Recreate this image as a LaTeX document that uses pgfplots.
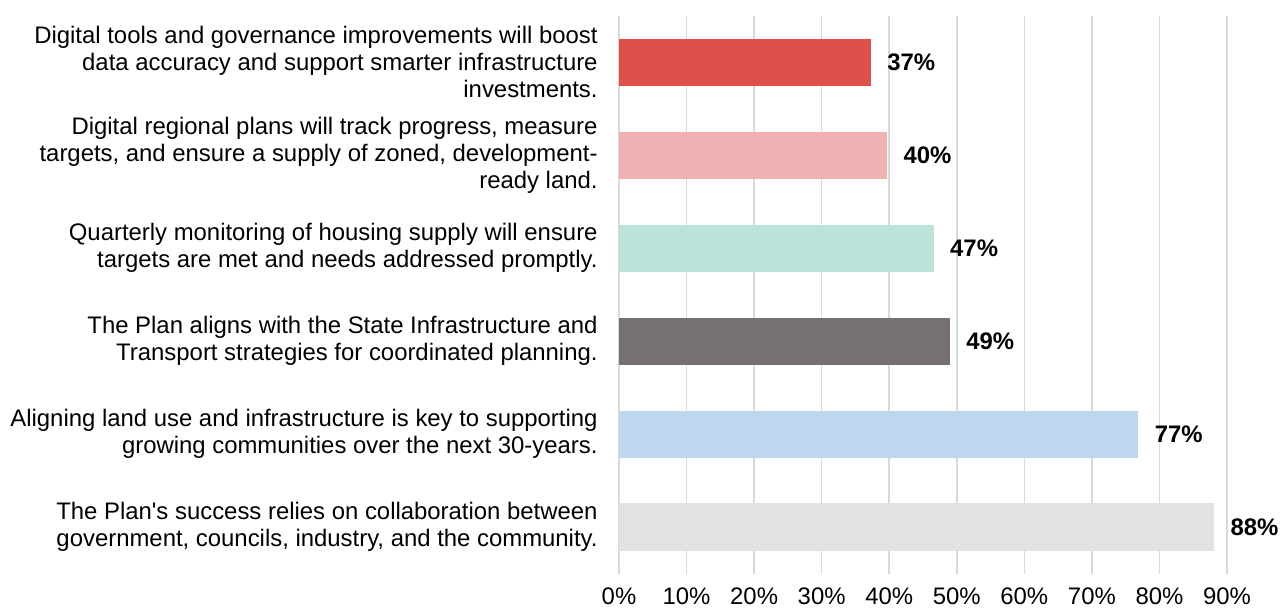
\documentclass[border=0pt]{standalone}
\usepackage{pgfplots}
\pgfplotsset{compat=1.18}
\usepackage{fontspec}
\setmainfont{Liberation Sans}
\definecolor{c1}{HTML}{E0504A}
\definecolor{c2}{HTML}{EFB1B1}
\definecolor{c3}{HTML}{BDE2DA}
\definecolor{c4}{HTML}{767170}
\definecolor{c5}{HTML}{BDD7EE}
\definecolor{c6}{HTML}{E2E2E2}
\definecolor{gridc}{HTML}{D9D9D9}
\begin{document}
\begin{tikzpicture}
\path[use as bounding box] (0,0) rectangle (642bp,305bp);
\begin{axis}[
  at={(309.5bp,18.25bp)}, anchor=south west,
  scale only axis, width=304bp, height=279bp,
  xbar, bar shift=0pt, bar width=23.5bp,
  xmin=0, xmax=90, ymin=-0.5, ymax=5.5,
  xtick={0,10,...,90},
  xticklabel={\pgfmathprintnumber{\tick}\%},
  /pgf/number format/assume math mode=true,
  ytick={0,1,2,3,4,5},
  yticklabels={
    {The Plan\textquotesingle s success relies on collaboration between\\government, councils, industry, and the community.},
    {Aligning land use and infrastructure is key to supporting\\growing communities over the next 30-years.},
    {The Plan aligns with the State Infrastructure and\\Transport strategies for coordinated planning.},
    {Quarterly monitoring of housing supply will ensure\\targets are met and needs addressed promptly.},
    {Digital regional plans will track progress, measure\\targets, and ensure a supply of zoned, development-\\ready land.},
    {Digital tools and governance improvements will boost\\data accuracy and support smarter infrastructure\\investments.}},
  yticklabel style={font=\fontsize{11.95bp}{13.5bp}\selectfont, align=right, anchor=east, inner sep=0pt, xshift=-10.5bp},
  xticklabel style={font=\fontsize{11.95bp}{13.5bp}\selectfont, anchor=north, inner sep=0pt, yshift=-7bp},
  axis line style={draw=none},
  major tick length=0pt,
  xmajorgrids, grid style={gridc, line width=0.75bp},
  point meta=explicit symbolic,
  nodes near coords,
  every node near coord/.append style={font=\bfseries\fontsize{11.95bp}{13.5bp}\selectfont, anchor=west, inner sep=0pt, xshift=8bp, text=black},
  clip=false,
]
\addplot[fill=c6, draw=none] coordinates {(88.1,0) [88\%]};
\addplot[fill=c5, draw=none] coordinates {(76.9,1) [77\%]};
\addplot[fill=c4, draw=none] coordinates {(49.0,2) [49\%]};
\addplot[fill=c3, draw=none] coordinates {(46.6,3) [47\%]};
\addplot[fill=c2, draw=none] coordinates {(39.7,4) [40\%]};
\addplot[fill=c1, draw=none] coordinates {(37.3,5) [37\%]};
\end{axis}
\end{tikzpicture}
\end{document}
